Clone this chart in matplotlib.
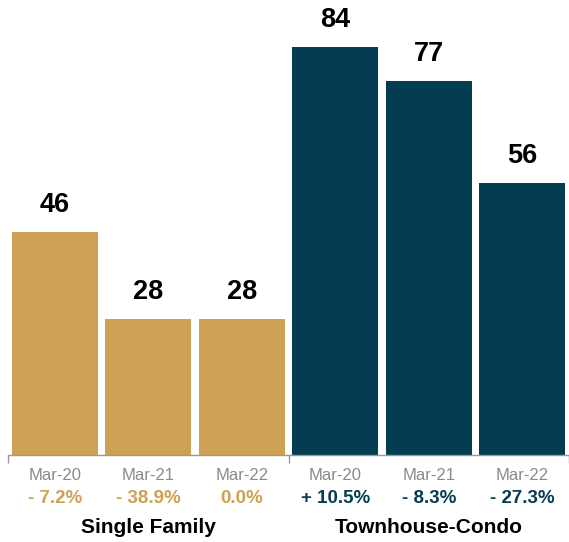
import matplotlib
matplotlib.use("Agg")
import matplotlib.pyplot as plt

plt.rcParams["font.family"] = ["Liberation Sans", "DejaVu Sans"]

# data
groups = ["Single Family", "Townhouse-Condo"]
periods = ["Mar-20", "Mar-21", "Mar-22"]
single_family = [46, 28, 28]
townhouse_condo = [84, 77, 56]
sf_change = ["- 7.2%", "- 38.9%", "0.0%"]
tc_change = ["+ 10.5%", "- 8.3%", "- 27.3%"]

gold = "#CFA154"
teal = "#043D52"

values = single_family + townhouse_condo
changes = sf_change + tc_change
colors = [gold] * 3 + [teal] * 3
xs = list(range(len(values)))

fig = plt.figure(figsize=(5.69, 5.42), dpi=100)
ax = fig.add_axes([8 / 569, 1 - 455 / 542, 1 - 8 / 569, 455 / 542])

ax.bar(xs, values, width=0.92, color=colors)
ax.set_xlim(-0.5, 5.42)
ax.set_ylim(0, 84 * 455 / 408)

for x, v in zip(xs, values):
    ax.annotate(str(v), (x, v), xytext=(0, 10), textcoords="offset points",
                ha="center", va="bottom", fontsize=19.5, fontweight="bold", color="black")

for s in ["top", "right", "left"]:
    ax.spines[s].set_visible(False)
ax.spines["bottom"].set_color("#999999")
ax.spines["bottom"].set_linewidth(1.0)
ax.set_yticks([])

ax.set_xticks(xs)
ax.set_xticklabels(periods * 2, fontsize=12, color="#8a8a8a")
ax.tick_params(axis="x", which="major", length=0, pad=9)
ax.set_xticks([-0.5, 2.5, 5.5], minor=True)
ax.tick_params(axis="x", which="minor", length=6, color="#999999", width=1.0)

trans = ax.get_xaxis_transform()
for x, c, col in zip(xs, changes, colors):
    ax.annotate(c, (x, 0), xycoords=trans, xytext=(0, -31), textcoords="offset points",
                ha="center", va="center", fontsize=13.5, fontweight="bold", color=col)

for i, g in enumerate(groups):
    ax.annotate(g, (i * 3 + 1, 0), xycoords=trans, xytext=(0, -52.5), textcoords="offset points",
                ha="center", va="center", fontsize=15, fontweight="bold", color="black")

fig.savefig("out.png", dpi=100)
plt.close(fig)
